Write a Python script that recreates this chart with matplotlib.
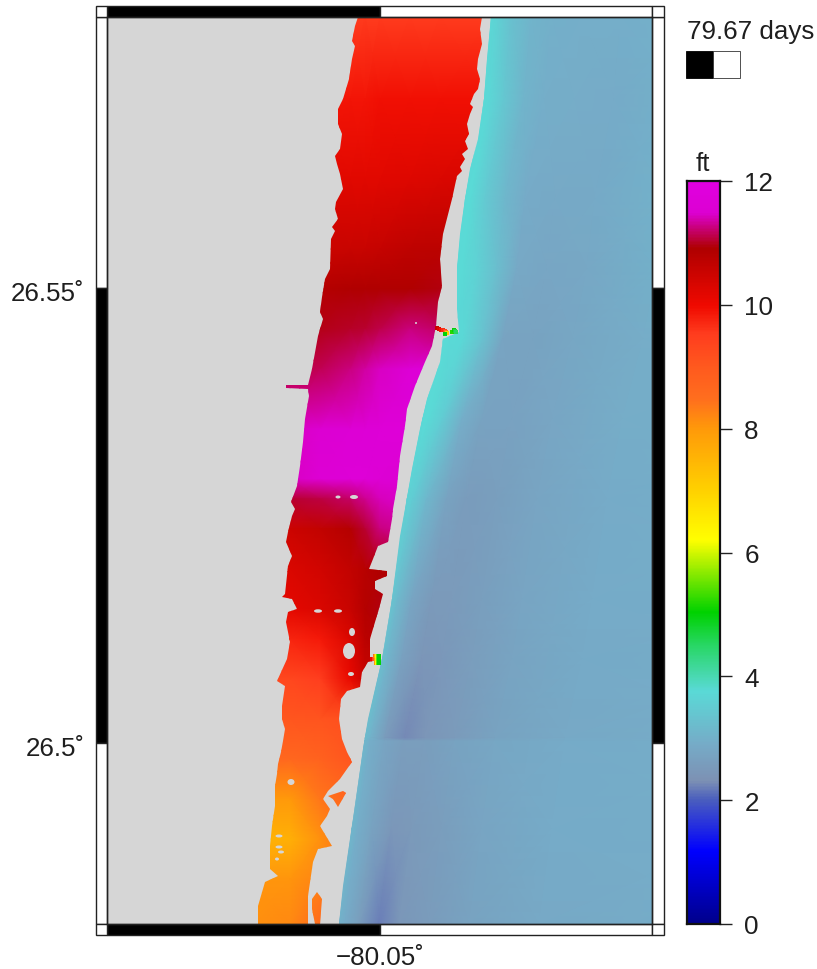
import numpy as np
import matplotlib
matplotlib.use("Agg")
import matplotlib.pyplot as plt
from matplotlib.colors import LinearSegmentedColormap, Normalize
from matplotlib.patches import Polygon, Rectangle, Ellipse, PathPatch
from matplotlib.path import Path
from matplotlib.transforms import ScaledTranslation

plt.rcParams['font.family'] = ['Liberation Sans', 'DejaVu Sans']

# ---- colour scale (ft) ----
cmap_levels = [0, 1.16, 2.0, 2.3, 2.9, 3.75, 4.5, 5.03, 6.2, 7.0, 8.0, 8.5, 9.0, 9.55, 10.0, 10.93, 11.5, 12]
cmap_colors = ['#00008c', '#0000ff', '#4b5fbe', '#7d91b4', '#76acc8', '#5adad7', '#28d764', '#00d200',
               '#ffff00', '#ffd200', '#ff9a0a', '#ff6e1e', '#ff5a1e', '#ff3c1e', '#f00a00', '#af0000', '#dc00d2', '#e100e1']

# ---- model grid rows/columns ----
lagoon_cols = [250, 290, 320, 350, 365, 380, 410, 440, 490]
lagoon_rows = [18, 100, 180, 250, 290, 330, 370, 430, 480, 500, 530, 570, 610, 640, 680, 720, 760, 800, 840, 880, 925]
lagoon_vals = [
    [9.5, 9.5, 9.5, 9.55, 9.55, 9.55, 9.55, 9.55, 9.55],
    [9.9, 9.9, 9.9, 9.9, 9.9, 9.95, 9.95, 9.95, 9.95],
    [10.2, 10.2, 10.2, 10.2, 10.2, 10.2, 10.25, 10.3, 10.35],
    [10.45, 10.5, 10.5, 10.55, 10.57, 10.6, 10.7, 10.75, 10.8],
    [10.85, 10.85, 10.85, 10.9, 10.9, 10.9, 10.92, 10.95, 10.95],
    [10.95, 10.95, 10.97, 11.02, 11.06, 11.12, 11.25, 11.2, 11.2],
    [11.1, 11.1, 11.15, 11.25, 11.35, 11.45, 11.62, 11.65, 11.65],
    [11.45, 11.45, 11.5, 11.58, 11.62, 11.66, 11.7, 11.7, 11.7],
    [11.4, 11.45, 11.55, 11.65, 11.65, 11.6, 11.5, 11.5, 11.5],
    [11.0, 11.05, 11.1, 11.2, 11.3, 11.42, 11.5, 11.5, 11.5],
    [10.45, 10.5, 10.65, 10.85, 11.05, 11.25, 11.35, 11.35, 11.35],
    [10.3, 10.3, 10.45, 10.65, 10.8, 10.9, 10.9, 10.9, 10.9],
    [10.15, 10.15, 10.3, 10.55, 10.85, 10.95, 10.95, 10.95, 10.95],
    [9.75, 9.75, 9.85, 10.3, 10.75, 10.85, 10.85, 10.85, 10.85],
    [9.35, 9.35, 9.5, 10.1, 10.55, 10.6, 10.6, 10.6, 10.6],
    [9.05, 9.05, 9.1, 9.2, 9.3, 9.3, 9.3, 9.3, 9.3],
    [8.65, 8.65, 8.8, 9.05, 9.3, 9.3, 9.3, 9.3, 9.3],
    [8.0, 8.0, 8.4, 8.75, 8.9, 8.9, 8.9, 8.9, 8.9],
    [7.5, 7.6, 8.1, 8.55, 8.7, 8.7, 8.7, 8.7, 8.7],
    [8.05, 8.05, 8.25, 8.55, 8.7, 8.7, 8.7, 8.7, 8.7],
    [8.1, 8.2, 8.6, 8.85, 9.0, 9.0, 9.0, 9.0, 9.0],
]

# lagoon outline, in grid cells
west_x = [358, 355, 352, 355, 352, 349, 343, 338, 338, 342, 340, 335, 337, 340, 343, 336, 335, 338, 332, 335, 331, 330, 325, 322, 320, 323, 318, 312,
          308, 286, 286, 308, 309, 305, 303, 300, 297, 291, 295, 292, 288, 286, 292, 288, 285, 282, 292, 297, 288, 286, 290,
          287, 277, 285, 282, 282, 285, 283, 281, 278, 277, 275, 275, 272, 270, 270, 278, 265, 258, 258]
west_y = [18, 27, 42, 47, 60, 80, 100, 110, 125, 135, 150, 157, 165, 175, 190, 203, 210, 220, 228, 232, 240, 270, 280, 298, 313, 320, 337, 370,
          386, 386, 389, 390, 397, 420, 443, 467, 487, 503, 510, 517, 533, 543, 557, 567, 595, 598, 600, 610, 613, 623, 643,
          660, 682, 687, 707, 720, 730, 742, 753, 765, 775, 787, 807, 827, 847, 870, 877, 883, 907, 925]
east_x = [482, 480, 482, 478, 477, 480, 478, 474, 470, 473, 470, 467, 469, 465, 468, 462, 465, 460, 462, 457, 452, 443, 440, 442, 438, 436, 432, 425, 415, 407,
          405, 400, 397, 393, 392, 388, 378, 373, 369, 387, 387, 375, 375, 383, 378, 370, 370, 373, 373, 368, 362, 360, 347, 341,
          339, 342, 347, 352, 347, 340, 328, 323, 330, 327, 320, 332, 318, 313, 308, 308]
east_y = [18, 30, 45, 60, 70, 80, 90, 95, 105, 108, 115, 125, 135, 142, 150, 155, 160, 168, 172, 177, 200, 235, 260, 287, 303, 327, 347, 363, 387, 410,
          427, 457, 487, 510, 520, 543, 547, 560, 570, 572, 577, 582, 590, 595, 613, 640, 658, 659, 662, 663, 673, 688, 692, 700,
          720, 740, 753, 763, 770, 780, 792, 800, 810, 817, 827, 847, 850, 863, 897, 925]
pond_a_x = [328, 343, 346, 338, 333]
pond_a_y = [797, 792, 794, 808, 800]
pond_b_x = [312, 317, 322, 320, 315, 312]
pond_b_y = [900, 893, 900, 925, 925, 910]

# dry islands inside the lagoon: centre and extent in cells
hole_x = [416, 338, 354, 318, 338, 352, 349, 351, 291, 279, 279, 281, 277]
hole_y = [324, 498, 498, 612, 612, 633, 652, 675, 783, 837, 848, 853, 860]
hole_w = [2, 5, 8, 8, 8, 6, 12, 6, 7, 7, 7, 6, 4]
hole_h = [2, 3, 4, 3.5, 3.5, 8, 16, 4, 6, 3, 3, 3, 3]

# shoreline of the ocean, in grid cells
coast_y = [18, 60, 100, 140, 170, 200, 235, 270, 310, 333, 340, 363, 400, 430, 470, 510, 537, 600, 660, 720, 750, 820, 887, 925]
coast_x = [491, 487, 484, 478, 470, 465, 460, 457, 457, 459, 443, 440, 427, 420, 412, 405, 400, 392, 382, 368, 363, 353, 343, 339]

# water level seaward of the shoreline (rows) by distance from shore (columns)
ocean_offsets = [-40, 0, 6, 20, 40, 60, 90, 130, 200, 400]
ocean_rows = [18, 100, 200, 270, 340, 420, 500, 600, 660, 739, 742, 830, 925]
ocean_vals = [
    [3.7, 3.7, 3.6, 3.3, 3.05, 2.98, 2.95, 2.95, 3.0, 3.05],
    [3.75, 3.75, 3.7, 3.4, 3.05, 2.95, 2.92, 2.9, 3.0, 3.05],
    [3.75, 3.75, 3.75, 3.45, 3.1, 2.9, 2.85, 2.88, 3.0, 3.05],
    [3.75, 3.75, 3.75, 3.6, 3.25, 2.85, 2.78, 2.82, 2.98, 3.05],
    [3.75, 3.75, 3.75, 3.72, 3.3, 2.72, 2.7, 2.8, 2.92, 3.0],
    [3.75, 3.75, 3.75, 3.5, 2.95, 2.7, 2.68, 2.78, 2.92, 3.0],
    [3.6, 3.6, 3.5, 3.1, 2.7, 2.55, 2.62, 2.75, 2.9, 3.0],
    [3.35, 3.35, 3.15, 2.75, 2.5, 2.52, 2.62, 2.75, 2.9, 2.95],
    [3.25, 3.25, 3.05, 2.65, 2.42, 2.48, 2.58, 2.72, 2.87, 2.95],
    [3.2, 3.2, 3.0, 2.55, 2.27, 2.42, 2.52, 2.7, 2.85, 2.95],
    [3.1, 3.1, 2.95, 2.75, 2.6, 2.6, 2.7, 2.8, 2.9, 2.95],
    [3.1, 3.1, 2.95, 2.7, 2.45, 2.5, 2.6, 2.75, 2.9, 2.95],
    [3.0, 3.0, 2.9, 2.6, 2.2, 2.45, 2.55, 2.7, 2.85, 2.95],
]

# tidal inlets: individual wet cells
inlet_x = [437, 439, 441, 443, 445, 446, 447, 445, 452, 454, 455, 456, 372, 374, 375, 376, 377, 378, 379,
           375, 376, 377, 378, 379, 376, 377, 378, 379]
inlet_y = [329, 330, 331, 331, 332, 333, 334, 335, 333, 331, 332, 333, 660, 660, 660, 660, 660, 660, 660,
           657, 657, 657, 657, 657, 664, 664, 664, 664]
inlet_v = [10.6, 10.3, 9.9, 9.7, 9.4, 8.5, 7.0, 5.0, 5.2, 5.0, 4.7, 4.5, 10.0, 9.5, 9.0, 8.0, 6.5, 5.5, 5.0,
           8.5, 7.5, 6.3, 5.5, 5.0, 8.0, 6.3, 5.5, 5.0]

# frame, ticks and labels
frame_rows = [18, 289, 744, 925]
frame_cols = [107, 380, 652.5]
row_ticks = [289, 744]
row_labels = ['26.55˚', '26.5˚']
col_ticks = [380]
col_labels = ['\u221280.05˚']
cbar_ticks = [0, 2, 4, 6, 8, 10, 12]
time_label = '79.67 days'
unit_label = 'ft'

W, H = 817, 970
LAND = '#d6d6d6'
INK = '#1e1e1e'
fig = plt.figure(figsize=(W / 100, H / 100), dpi=100)

def px_axes(x0, y0, x1, y1):
    return fig.add_axes([x0 / W, 1 - y1 / H, (x1 - x0) / W, (y1 - y0) / H])

ax = px_axes(107, 18, 652.5, 925)
ax.set_xlim(107, 652.5)
ax.set_ylim(925, 18)
ax.set_facecolor(LAND)

cmap = LinearSegmentedColormap.from_list('ft', [(l / 12, c) for l, c in zip(cmap_levels, cmap_colors)], N=512)
norm = Normalize(0, 12)

# ocean
rows = np.array(ocean_rows, float)
row_coast = np.interp(rows, coast_y, coast_x)
ox = row_coast[:, None] + np.array(ocean_offsets, float)[None, :]
oy = np.repeat(rows[:, None], len(ocean_offsets), axis=1)
om = ax.pcolormesh(ox, oy, np.array(ocean_vals), cmap=cmap, norm=norm, shading='gouraud', zorder=1)
ocean_patch = Polygon(np.column_stack([coast_x + [660, 660], coast_y + [925, 18]]), closed=True,
                      transform=ax.transData, fc='none', ec='none')
ax.add_patch(ocean_patch)
om.set_clip_path(ocean_patch)

# lagoon
lm = ax.pcolormesh(lagoon_cols, lagoon_rows, np.array(lagoon_vals), cmap=cmap, norm=norm, shading='gouraud', zorder=2)
outline = np.column_stack([west_x + east_x[::-1], west_y + east_y[::-1]])
paths = [Path(np.vstack([outline, outline[0]])),
         Path(np.column_stack([pond_a_x + pond_a_x[:1], pond_a_y + pond_a_y[:1]])),
         Path(np.column_stack([pond_b_x + pond_b_x[:1], pond_b_y + pond_b_y[:1]]))]
lagoon_patch = PathPatch(Path.make_compound_path(*paths), transform=ax.transData, fc='none', ec='none')
ax.add_patch(lagoon_patch)
lm.set_clip_path(lagoon_patch)

for x, y, w, h in zip(hole_x, hole_y, hole_w, hole_h):
    ax.add_patch(Ellipse((x, y), w, h, fc=LAND, ec='none', zorder=3))

ax.scatter(inlet_x, inlet_y, c=inlet_v, cmap=cmap, norm=norm, s=5, marker='s', linewidths=0, zorder=4)

# ticks
ax.set_xticks(col_ticks, col_labels, fontsize=18.7, color=INK)
ax.set_yticks(row_ticks, row_labels, fontsize=18.7, color=INK)
ax.tick_params(axis='x', length=0, pad=15)
ax.tick_params(axis='y', length=0, pad=16)
nudge = ScaledTranslation(0, -2.5 / 100, fig.dpi_scale_trans)
for lab in ax.get_yticklabels():
    lab.set_transform(lab.get_transform() + nudge)
for s in ax.spines.values():
    s.set_linewidth(1.0)
    s.set_color('#222222')
    s.set_zorder(8)

# frame strips
frame_kw = dict(clip_on=False, zorder=7, lw=1.0, ec='#222222')
strip = 11.5
for i in range(3):
    fc = 'black' if i == 1 else 'white'
    y0, y1 = frame_rows[i], frame_rows[i + 1]
    ax.add_patch(Rectangle((frame_cols[0] - strip, y0), strip, y1 - y0, fc=fc, **frame_kw))
    ax.add_patch(Rectangle((frame_cols[-1], y0), strip, y1 - y0, fc=fc, **frame_kw))
for i in range(2):
    fc = 'black' if i == 0 else 'white'
    x0, x1 = frame_cols[i], frame_cols[i + 1]
    ax.add_patch(Rectangle((x0, frame_rows[0] - strip + 0.5), x1 - x0, strip - 0.5, fc=fc, **frame_kw))
    ax.add_patch(Rectangle((x0, frame_rows[-1]), x1 - x0, strip - 0.5, fc=fc, **frame_kw))
for x in (frame_cols[0] - strip, frame_cols[-1]):
    ax.add_patch(Rectangle((x, frame_rows[0] - strip + 0.5), strip, strip - 0.5, fc='white', **frame_kw))
    ax.add_patch(Rectangle((x, frame_rows[-1]), strip, strip - 0.5, fc='white', **frame_kw))

# time label and progress bar
fig.text(687 / W, 1 - 38.5 / H, time_label, fontsize=18.7, color=INK, ha='left', va='baseline')
ax.add_patch(Rectangle((686, 52), 27, 27, fc='black', ec='black', lw=0.6, clip_on=False, zorder=7))
ax.add_patch(Rectangle((713, 52), 27, 27, fc='white', ec='#333333', lw=0.6, clip_on=False, zorder=7))

# colour bar
cax = px_axes(686.5, 182, 720, 925)
grad = np.linspace(0, 12, 744)[:, None]
cax.imshow(grad, extent=[0, 1, 0, 12], origin='lower', aspect='auto', cmap=cmap, norm=norm)
cax.set_xticks([])
cax.yaxis.tick_right()
cax.set_yticks(cbar_ticks, [str(t) for t in cbar_ticks], fontsize=18.7, color=INK)
cax.tick_params(axis='y', length=8.5, width=1.0, pad=9, color='#222222')
for s in cax.spines.values():
    s.set_linewidth(1.6)
    s.set_color('#111111')
cax.text(0.5, 1.0148, unit_label, transform=cax.transAxes, fontsize=18.7, color=INK, ha='center', va='baseline')

fig.savefig('out.png', dpi=100, facecolor='white')
